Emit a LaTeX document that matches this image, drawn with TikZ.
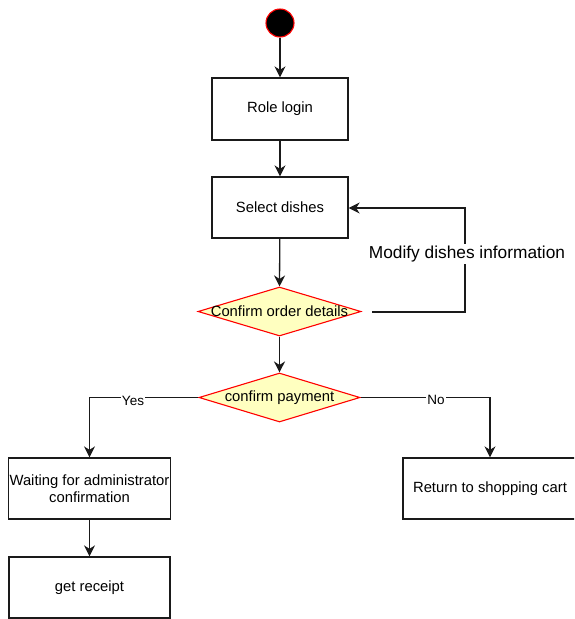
\documentclass[tikz,border=0pt]{standalone}
\usepackage{fontspec}
\setmainfont{Liberation Sans}
\usetikzlibrary{shapes.geometric,arrows.meta}
\definecolor{diafill}{HTML}{FFFFC0}
\definecolor{linec}{HTML}{1A1A1A}
\begin{document}
\begin{tikzpicture}[x=1pt,y=-1pt,
  box/.style={draw=linec,line width=1.3pt,rectangle,inner sep=1pt,align=center,
    font=\fontsize{14.8}{17.5}\selectfont},
  dia/.style={draw=red,fill=diafill,line width=1.1pt,diamond,inner sep=0pt},
  dtext/.style={font=\fontsize{14.8}{17.5}\selectfont,inner sep=0pt},
  conn/.style={draw=linec,line width=1.3pt,-{Stealth[length=11pt,width=11pt,inset=3.5pt]}},
  elabel/.style={fill=white,inner sep=1pt,font=\fontsize{13.5}{16}\selectfont},
  biglabel/.style={fill=white,inner sep=2pt,font=\fontsize{17.3}{20}\selectfont}]
\clip (0,0) rectangle (574,619);
\useasboundingbox (0,0) rectangle (574,619);
% nodes
\node[circle,draw=red,fill=black,line width=1.1pt,minimum size=28pt,inner sep=0pt] (start) at (280,23) {};
\node[box,minimum width=136pt,minimum height=62pt] (login) at (280,109) {Role login};
\node[box,minimum width=136pt,minimum height=61pt] (select) at (280,207.5) {Select dishes};
\node[dia,minimum width=163pt,minimum height=49pt] (order) at (279.5,311.5) {};
\node[dtext] (ordert) at (order.center) {Confirm order details};
\node[dia,minimum width=161pt,minimum height=49pt] (pay) at (279.5,397.5) {};
\node[dtext] (payt) at (pay.center) {confirm payment};
\node[box,minimum width=161pt,minimum height=61pt] (wait) at (89.5,488.5) {Waiting for administrator\\confirmation};
\node[box,minimum width=174pt,minimum height=61pt] (cart) at (490,488.5) {Return to shopping cart};
\node[box,minimum width=161pt,minimum height=61pt] (receipt) at (89.5,587.5) {get receipt};
\coordinate (loopstart) at (372,312);
\coordinate (loopcorner1) at (465,312);
\coordinate (loopcorner2) at (465,208);
% connectors
\draw[conn] (start) -- (login);
\draw[conn] (login) -- (select);
\draw[conn] (select) -- (order.north);
\draw[conn] (order.south) -- (pay.north);
\draw[conn] (loopstart) -- (loopcorner1) -- (loopcorner2) -- (select.east |- loopcorner2);
\node[biglabel] (modlabel) at (467,254) {Modify dishes information};
\draw[conn] (pay.west) -| (wait.north);
\node[elabel] (yes) at (133,401) {Yes};
\draw[conn] (pay.east) -| (cart.north);
\node[elabel] (no) at (436,400) {No};
\draw[conn] (wait) -- (receipt);
\end{tikzpicture}
\end{document}
